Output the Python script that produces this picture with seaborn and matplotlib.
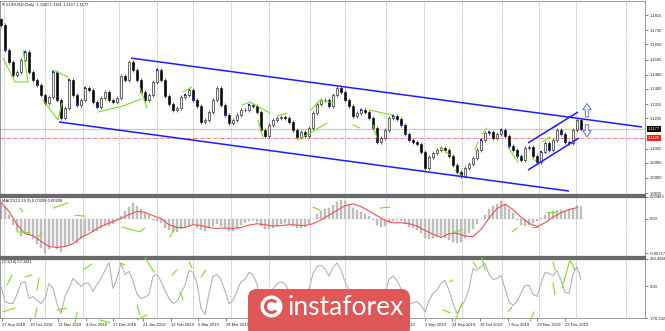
import numpy as np
import pandas as pd
import matplotlib
matplotlib.use("Agg")
import matplotlib.pyplot as plt
import matplotlib.transforms as mtransforms
from matplotlib.patches import FancyBboxPatch, Circle, Wedge
import seaborn as sns

sns.set_theme(style="white")
plt.rcParams['font.family'] = ['Liberation Sans', 'DejaVu Sans']

# ---------------- data ----------------
first_open = 1.1790
close = [1.1759, 1.1618, 1.1551, 1.1478, 1.1495, 1.1562, 1.1607, 1.1495, 1.1450, 1.1422,
         1.1366, 1.1321, 1.1354, 1.1495, 1.1337, 1.1236, 1.1293, 1.1450, 1.1366, 1.1309,
         1.1337, 1.1405, 1.1394, 1.1326, 1.1298, 1.1349, 1.1382, 1.1337, 1.1326, 1.1349,
         1.1472, 1.1450, 1.1551, 1.1506, 1.1450, 1.1382, 1.1337, 1.1366, 1.1439, 1.1506,
         1.1450, 1.1360, 1.1315, 1.1281, 1.1293, 1.1354, 1.1366, 1.1394, 1.1337, 1.1304,
         1.1214, 1.1225, 1.1270, 1.1337, 1.1405, 1.1309, 1.1253, 1.1208, 1.1225, 1.1253,
         1.1281, 1.1281, 1.1309, 1.1304, 1.1270, 1.1169, 1.1135, 1.1197, 1.1225, 1.1236,
         1.1242, 1.1236, 1.1214, 1.1169, 1.1130, 1.1158, 1.1135, 1.1180, 1.1264, 1.1315,
         1.1337, 1.1337, 1.1304, 1.1366, 1.1405, 1.1382, 1.1337, 1.1304, 1.1248, 1.1264,
         1.1281, 1.1270, 1.1236, 1.1180, 1.1102, 1.1124, 1.1169, 1.1236, 1.1248, 1.1231,
         1.1197, 1.1147, 1.1113, 1.1102, 1.1090, 1.1045, 1.0955, 1.1017, 1.1040, 1.1057,
         1.1068, 1.1057, 1.1023, 1.0972, 1.0933, 1.0911, 1.0955, 1.0978, 1.1012, 1.1057,
         1.1113, 1.1152, 1.1158, 1.1124, 1.1147, 1.1169, 1.1135, 1.1079, 1.1057, 1.1023,
         1.1000, 1.1068, 1.1073, 1.1023, 1.0989, 1.1045, 1.1096, 1.1057, 1.1113, 1.1169,
         1.1147, 1.1102, 1.1096, 1.1169, 1.1225, 1.1177]

macd_main = [0.0035, 0.0028, 0.0009, -0.0012, -0.0026, -0.0035, -0.0027, -0.0033, -0.0043, -0.0052,
             -0.0062, -0.0071, -0.0064, -0.0056, -0.0064, -0.0069, -0.0060, -0.0052, -0.0047, -0.0050,
             -0.0043, -0.0033, -0.0026, -0.0027, -0.0025, -0.0018, -0.0014, -0.0014, -0.0010, -0.0003,
             0.0007, 0.0016, 0.0026, 0.0033, 0.0028, 0.0020, 0.0014, 0.0009, -0.0003, -0.0005,
             -0.0009, -0.0018, -0.0024, -0.0028, -0.0028, -0.0022, -0.0018, -0.0014, -0.0010, -0.0018,
             -0.0024, -0.0026, -0.0018, -0.0014, -0.0010, -0.0015, -0.0020, -0.0025, -0.0025, -0.0020,
             -0.0012, -0.0008, -0.0004, -0.0002, -0.0006, -0.0015, -0.0022, -0.0022, -0.0018, -0.0014,
             -0.0010, -0.0009, -0.0010, -0.0014, -0.0018, -0.0018, -0.0016, -0.0010, 0.0000, 0.0010,
             0.0017, 0.0022, 0.0024, 0.0030, 0.0036, 0.0040, 0.0038, 0.0032, 0.0024, 0.0018,
             0.0014, 0.0010, 0.0006, -0.0002, -0.0012, -0.0016, -0.0014, -0.0008, -0.0004, -0.0003,
             -0.0005, -0.0010, -0.0016, -0.0020, -0.0024, -0.0030, -0.0040, -0.0042, -0.0040, -0.0038,
             -0.0035, -0.0040, -0.0044, -0.0048, -0.0050, -0.0048, -0.0040, -0.0030, -0.0022, -0.0010,
             0.0000, 0.0008, 0.0020, 0.0027, 0.0031, 0.0037, 0.0032, 0.0022, 0.0012, -0.0002,
             -0.0012, -0.0014, -0.0012, -0.0008, -0.0004, 0.0003, 0.0008, 0.0012, 0.0016, 0.0019,
             0.0019, 0.0016, 0.0018, 0.0022, 0.0030, 0.0027]

# signal line sampled every second bar
macd_signal = [0.0035, 0.0016, -0.0012, -0.0031, -0.0035, -0.0047, -0.0058, -0.0060, -0.0058, -0.0052,
               -0.0039, -0.0031, -0.0020, -0.0012, -0.0005, 0.0001, 0.0009, 0.0016, 0.0014, 0.0007,
               0.0001, -0.0012, -0.0018, -0.0018, -0.0012, -0.0014, -0.0018, -0.0020, -0.0019, -0.0020,
               -0.0018, -0.0013, -0.0010, -0.0012, -0.0015, -0.0014, -0.0012, -0.0013, -0.0014, -0.0010,
               -0.0002, 0.0008, 0.0018, 0.0028, 0.0032, 0.0026, 0.0017, 0.0007, -0.0003, -0.0008,
               -0.0008, -0.0010, -0.0015, -0.0024, -0.0032, -0.0039, -0.0031, -0.0030, -0.0036, -0.0037,
               -0.0022, 0.0002, 0.0022, 0.0031, 0.0020, 0.0004, -0.0009, -0.0016, -0.0008, 0.0004,
               0.0013, 0.0020, 0.0024]

cci = [0, -128, -146, -146, -68, 26, 43, -103, -86, -120,
       -146, -103, 26, -17, -146, -231, -86, -17, 68, 34,
       0, 26, 26, -43, 17, 68, 137, 205, -17, 68,
       197, 103, 128, 51, -68, -103, -94, -68, 86, 103,
       43, -34, -103, -146, -128, -60, 9, 137, 120, 26,
       -188, -240, -60, 86, 103, 60, -40, -150, -120, -40,
       40, 60, 120, 100, 20, -160, -210, -90, -20, 20,
       40, 20, -40, -120, -180, -110, -120, -20, 110, 170,
       180, 150, 90, 160, 200, 140, 40, -30, -120, -80,
       -40, -50, -110, -170, -230, -170, -60, 60, 90, 50,
       -20, -110, -150, -140, -130, -160, -220, -120, -60, -30,
       26, 51, -34, -146, -231, -171, -120, -17, 154, 137,
       171, 197, 103, 60, 68, 94, -17, -128, -163, -128,
       -60, 9, 9, -68, -86, 26, 120, 111, 94, 137,
       51, -51, -60, 103, 171, 57]

date_labels = ["27 Sep 2018", "19 Oct 2018", "12 Nov 2018", "4 Dec 2018", "27 Dec 2018",
               "21 Jan 2019", "12 Feb 2019", "6 Mar 2019", "28 Mar 2019", "19 Apr 2019",
               "13 May 2019", "4 Jun 2019", "26 Jun 2019", "18 Jul 2019", "9 Aug 2019",
               "2 Sep 2019", "24 Sep 2019", "16 Oct 2019", "7 Nov 2019", "29 Nov 2019",
               "23 Dec 2019"]
date_bar = [0.25, 7.25, 14.25, 21.25, 28, 35.5, 42.5, 49.25, 56.25, 63.25,
            70.25, 77.25, 84.25, 91.25, 98.25, 106, 112.75, 119.75, 126.75, 134, 141]
grid_bar = [0.75, 11, 20.5, 29.5, 39, 48, 57.5, 67, 77.25, 86, 96.25, 105.75,
            115.25, 125.25, 134.5, 143.75, 156.25]

price_ticks = [1.1815, 1.1730, 1.1650, 1.1565, 1.1480, 1.1400, 1.1315, 1.1235,
               1.1065, 1.0985, 1.0900, 1.0815]
bid_price = 1.1177
level_price = 1.1125

# channel trend lines (bar, price)
chan_upper = [(32.5, 1.1573), (160.25, 1.1186)]
chan_lower = [(14.5, 1.1214), (142.0, 1.0826)]
rise_upper = [(131.75, 1.1096), (144.25, 1.1270)]
rise_lower = [(131.75, 1.0944), (144.5, 1.1124)]

fractal_bars = [1, 6, 9, 13, 17, 19, 21, 24, 39, 46, 48, 56, 62, 82, 90, 94, 98, 100,
                101, 102, 114, 120, 122, 125, 127, 129, 134, 135, 137, 140, 141]

zigzag_price = [
    [(0.5, 1.1573), (3.5, 1.1439), (6.75, 1.1439), (5.5, 1.1618)],
    [(13, 1.1506), (16.75, 1.1467)],
    [(10.5, 1.1337), (14.25, 1.1225), (15.25, 1.1321)],
    [(24.25, 1.1270), (30.5, 1.1304), (35, 1.1343)],
    [(34.75, 1.1405), (36.5, 1.1293)],
    [(45.5, 1.1382), (47.75, 1.1411)],
    [(60.25, 1.1309), (62.25, 1.1326), (67.25, 1.1264)],
    [(64.25, 1.1225), (65.5, 1.1130)],
    [(69.25, 1.1248), (71.5, 1.1264)],
    [(74.25, 1.1113), (81.5, 1.1208)],
    [(77.5, 1.1281), (79.75, 1.1337), (83, 1.1321)],
    [(88, 1.1197), (89.75, 1.1180)],
    [(92.25, 1.1281), (97.75, 1.1253)],
    [(93, 1.1197), (94, 1.1124)],
    [(104.75, 1.0944), (106, 1.0933)],
    [(109.75, 1.1073), (112.25, 1.1028)],
    [(113.5, 1.0944), (115.25, 1.0911)],
    [(118.5, 1.1057), (119.25, 1.1102)],
    [(120.25, 1.1146), (121.5, 1.1180)],
    [(126.75, 1.1073), (129.25, 1.0989)],
    [(132.75, 1.1012), (134, 1.0989)],
    [(135.25, 1.1102), (137.25, 1.1130)],
    [(138, 1.1180), (139, 1.1191)],
]
div_macd = [
    [(4.75, 0.0023), (5.5, 0.0015)], [(13, 0.0023), (16.75, 0.0034)],
    [(18.5, 0.0008), (21, 0.0006)], [(4, -0.0027), (7.25, -0.0029)],
    [(9.25, -0.0038), (10.25, -0.0029)], [(30.25, -0.0017), (34.75, -0.0027), (36, -0.0019)],
    [(42.25, -0.0038), (43.5, -0.0019)], [(78, 0.0025), (79.75, 0.0019)],
    [(94.75, 0.0023), (97.25, 0.0025)], [(113, -0.0029), (115.25, -0.0023)],
    [(127.75, -0.0027), (129, -0.0019)], [(132.75, -0.0017), (134.25, -0.0017)],
    [(136.5, 0.0015), (138.5, 0.0015)],
]
div_cci = [
    [(1.5, 12), (2.75, 98)], [(0.5, -218), (3.5, -184)], [(6, 81), (7.75, 98)],
    [(9, -30), (9.5, 73)], [(8.5, -261), (9, -184)], [(14, -201), (16.5, -184)],
    [(18.5, -312), (19, -226)], [(20.5, 141), (22.75, 193)], [(24.75, -287), (27.25, -312)],
    [(29.75, 201), (31, 184)], [(34, -158), (34.75, -244)], [(34, -287), (36.5, -244)],
    [(36, 244), (38.25, 124)], [(42.75, 98), (44, 141)], [(44.75, -47), (45.5, -116)],
    [(47, 210), (47.75, 158)], [(50, 81), (51.25, 141)],
    [(110.5, -201), (112.25, -227)], [(112.25, 38), (113, 56)], [(113.5, -300), (115.25, -141)],
    [(118, 210), (119, 158)], [(120.25, 244), (121, 141)], [(126.75, -218), (127.75, -175)],
    [(132.25, -300), (133.25, -218)], [(138, 210), (138.5, 141)], [(138, 30), (138.5, -73)],
    [(140.25, -13), (142.25, 227), (143.5, 141)],
]

# ---------------- figure ----------------
W, H = 665, 331
fig = plt.figure(figsize=(W / 100, H / 100), dpi=100)
fig.patch.set_facecolor("white")


def ax_at(x0, y0, x1, y1):
    return fig.add_axes([x0 / W, 1 - y1 / H, (x1 - x0) / W, (y1 - y0) / H])


ax_p = ax_at(0, 1, 645, 195)
ax_m = ax_at(0, 197, 645, 257)
ax_c = ax_at(0, 259, 645, 318)
axes = [ax_p, ax_m, ax_c]

GREEN = "#7be01c"
BLUE = "#1c1cff"

df = pd.DataFrame({"bar": np.arange(len(close)), "close": close,
                   "macd": macd_main, "cci": cci})
df["open"] = [first_open] + close[:-1]
sig_df = pd.DataFrame({"bar": np.arange(len(macd_signal)) * 2, "signal": macd_signal})

for a in axes:
    a.set_facecolor("white")
    a.set_xlim(-0.25, 161)
    for g in grid_bar:
        a.axvline(g, color="#9a9a9a", lw=0.5, ls=(0, (1.2, 1.2)), zorder=0)
    for s in a.spines.values():
        s.set_color("#8a8a8a")
        s.set_linewidth(0.6)
    a.set_xticks([])
    a.yaxis.tick_right()
    a.tick_params(axis="y", right=True, left=False, labelsize=3, length=2, width=0.4,
                  pad=1.2, colors="#222222")
    a.set_xlabel("")
    a.set_ylabel("")

for a, side in [(ax_p, "bottom"), (ax_m, "top"), (ax_m, "bottom"), (ax_c, "top")]:
    a.spines[side].set_linewidth(1.6)
    a.spines[side].set_color("#6a6a6a")

# ---- price panel ----
ax_p.set_ylim(1.08038, 1.18937)
ax_p.axhline(bid_price, color="#c9c9c9", lw=0.8, zorder=1)
ax_p.axhline(level_price, color="#ff5a5a", lw=0.6, ls=(0, (4, 1.5, 1, 1.5)), zorder=1)

o = df["open"].to_numpy()
c = df["close"].to_numpy()
xb = df["bar"].to_numpy()
hi = np.maximum(o, c)
lo = np.minimum(o, c)
wick = 0.0011
ax_p.vlines(xb, lo - wick, hi + wick, color="#505050", lw=0.6, zorder=2)
up = c >= o
ax_p.bar(xb[up], (c - o)[up], bottom=o[up], width=0.5, color="#f4f4f4",
         edgecolor="black", linewidth=0.4, zorder=3)
ax_p.bar(xb[~up], (o - c)[~up], bottom=c[~up], width=0.5, color="black",
         edgecolor="black", linewidth=0.4, zorder=3)

for seg in zigzag_price:
    sx, sy = zip(*seg)
    ax_p.plot(sx, sy, color=GREEN, lw=0.8, zorder=4)

ax_p.scatter(fractal_bars, [close[i] for i in fractal_bars], marker="s", s=2.5,
             color=BLUE, zorder=5, linewidths=0)

for line in (chan_upper, chan_lower, rise_upper, rise_lower):
    lx, ly = zip(*line)
    ax_p.plot(lx, ly, color=BLUE, lw=1.1, zorder=6, solid_capstyle="butt")

arrow_kw = dict(arrowstyle="simple,head_length=0.9,head_width=1.2,tail_width=0.5",
                fc="white", ec="#3b5bff", lw=0.6, mutation_scale=5,
                shrinkA=0, shrinkB=0)
ax_p.annotate("", xy=(146.5, 1.1318), xytext=(146.5, 1.1242), arrowprops=arrow_kw, zorder=7)
ax_p.annotate("", xy=(146.5, 1.1130), xytext=(146.5, 1.1198), arrowprops=arrow_kw, zorder=7)

ax_p.set_yticks(price_ticks)
ax_p.set_yticklabels([f"{v:.4f}" for v in price_ticks])
tr = mtransforms.blended_transform_factory(ax_p.transAxes, ax_p.transData)
ax_p.text(1.004, bid_price, f"{bid_price:.4f}", transform=tr, fontsize=3, color="white",
          va="center", ha="left", bbox=dict(boxstyle="square,pad=0.25", fc="black", ec="none"))
ax_p.text(1.004, level_price, f"{level_price:.4f}", transform=tr, fontsize=3, color="white",
          va="center", ha="left", bbox=dict(boxstyle="square,pad=0.25", fc="#ff1a1a", ec="none"))

# ---- MACD panel ----
ax_m.set_ylim(-0.00801, 0.00463)
ax_m.bar(df["bar"], df["macd"], width=0.62, color="#c4c4c4", edgecolor="#a0a0a0",
         linewidth=0.2, zorder=2)
sns.lineplot(data=sig_df, x="bar", y="signal", ax=ax_m, color="#f25050", lw=0.8, zorder=3)
for seg in div_macd:
    sx, sy = zip(*seg)
    ax_m.plot(sx, sy, color=GREEN, lw=0.8, zorder=4)
ax_m.set_yticks([0.00463, 0.0, -0.00717])
ax_m.set_yticklabels(["0.00463", "0.00", "-0.00717"])
ax_m.set_xticks([])
ax_m.set_xlabel("")
ax_m.set_ylabel("")

# ---- CCI panel ----
ax_c.set_ylim(-270.332, 234.4946)
sns.lineplot(data=df, x="bar", y="cci", ax=ax_c, color="#b3b3b3", lw=0.8, zorder=3)
for seg in div_cci:
    sx, sy = zip(*seg)
    ax_c.plot(sx, sy, color=GREEN, lw=0.8, zorder=4, clip_on=False)
ax_c.set_yticks([234.4946, 0.0, -270.332])
ax_c.set_yticklabels(["234.4946", "0.00", "-270.332"])
ax_c.set_xticks(date_bar)
ax_c.set_xticklabels(date_labels, fontsize=3, ha="left")
ax_c.tick_params(axis="x", bottom=True, length=2, width=0.4, pad=1.5, colors="#222222")
ax_c.set_xlabel("")
ax_c.set_ylabel("")

# ---- panel captions ----
fig.text(6 / W, 1 - 5 / H, "EURUSD,Daily  1.1160 1.1181 1.1157 1.1177", fontsize=3,
         va="center", ha="left", color="#222222")
fig.text(1.5 / W, 1 - 5 / H, "\u25BE", fontsize=3.5, va="center", ha="left", color="#555555")
fig.text(2 / W, 1 - 201 / H, "MACD(12,26,9) 0.00208 0.00208", fontsize=3,
         va="center", ha="left", color="#222222")
fig.text(2 / W, 1 - 262 / H, "CCI(14) 57.3811", fontsize=3,
         va="center", ha="left", color="#222222")

# ---- watermark logo ----
logo = FancyBboxPatch((2.48, -0.06), 1.62, 0.48,
                      boxstyle="round,pad=0,rounding_size=0.09",
                      transform=fig.dpi_scale_trans, fc="#df5757", ec="none", zorder=20)
fig.add_artist(logo)
fig.add_artist(Circle((2.715, 0.245), 0.11, transform=fig.dpi_scale_trans,
                      fc="white", ec="none", zorder=21))
fig.add_artist(Wedge((2.715, 0.245), 0.075, 40, 320, width=0.03,
                     transform=fig.dpi_scale_trans, fc="#df5757", ec="none", zorder=22))
fig.text(2.88 / (W / 100), 0.235 / (H / 100), "instaforex", fontsize=19, color="white",
         va="center", ha="left", family=["Lato", "DejaVu Sans"], zorder=23)

fig.savefig("out.png", dpi=100, facecolor="white")
